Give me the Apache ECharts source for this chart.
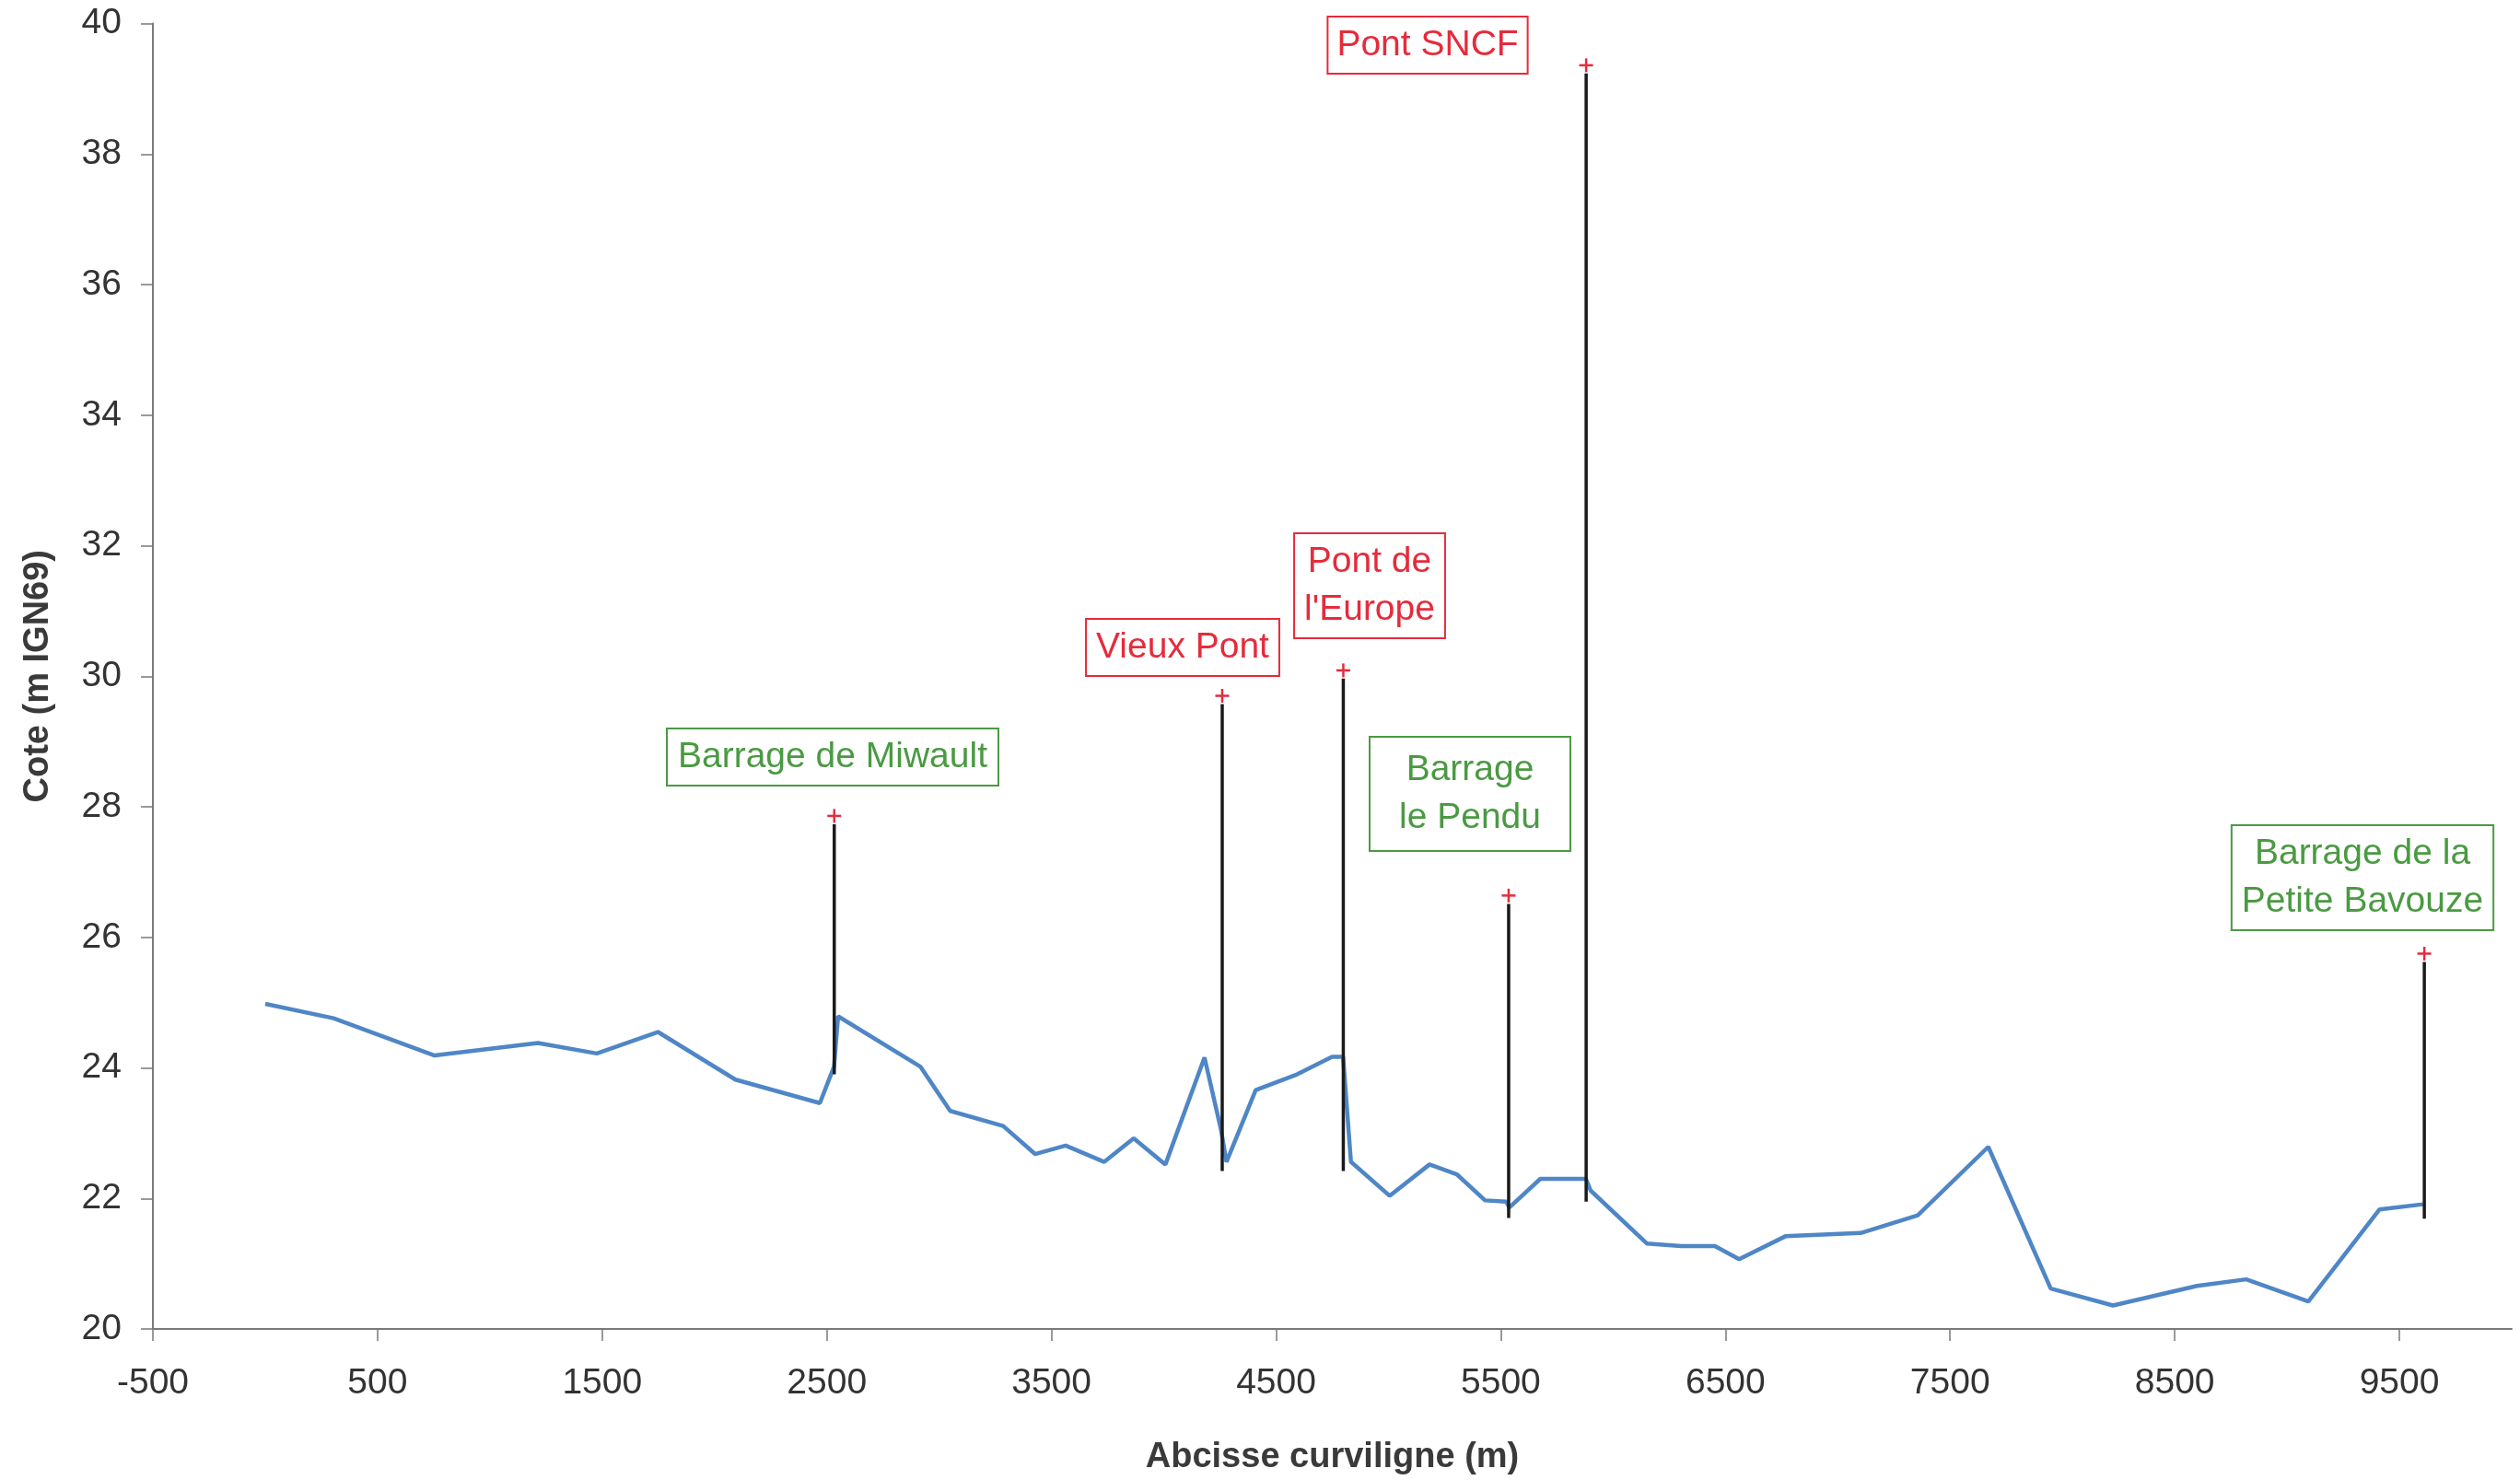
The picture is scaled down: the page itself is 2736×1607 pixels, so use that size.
<!DOCTYPE html>
<html>
<head>
<meta charset="utf-8">
<script src="https://cdn.jsdelivr.net/npm/echarts@6/dist/echarts.min.js"></script>
<style>
  html, body { margin: 0; padding: 0; background: #ffffff; }
  #chart { width: 2736px; height: 1607px; }
</style>
</head>
<body>
<div id="chart"></div>
<script>
// Water-line profile along the river: curvilinear abscissa (m) and level (m IGN69)
const abscisses = [0, 304, 754, 1214, 1476, 1748, 2093, 2469, 2532, 2550, 2916, 3049, 3285, 3427,
  3563, 3735, 3866, 4007, 4181, 4254, 4279, 4409, 4593, 4749, 4798, 4833, 5005, 5183, 5304, 5430,
  5524, 5538, 5676, 5879, 5900, 6150, 6303, 6453, 6561, 6767, 7102, 7356, 7670, 7948, 8225, 8599,
  8818, 9095, 9411, 9605];
const cotes = [24.98, 24.76, 24.19, 24.38, 24.22, 24.55, 23.82, 23.46, 24.02, 24.79, 24.02, 23.34,
  23.11, 22.68, 22.81, 22.56, 22.92, 22.52, 24.16, 23.06, 22.56, 23.66, 23.90, 24.17, 24.17, 22.56,
  22.04, 22.52, 22.37, 21.97, 21.95, 21.86, 22.30, 22.30, 22.12, 21.31, 21.27, 21.27, 21.07, 21.42,
  21.47, 21.74, 22.79, 20.62, 20.36, 20.66, 20.76, 20.42, 21.83, 21.91];

// Structures along the reach: name, kind, position, foot and crest level
const ouvrageNoms = ['Barrage de Miwault', 'Vieux Pont', "Pont de l'Europe", 'Barrage le Pendu',
  'Pont SNCF', 'Barrage de la Petite Bavouze'];
const ouvrageTextes = ['Barrage de Miwault', 'Vieux Pont', "Pont de\nl'Europe", 'Barrage\nle Pendu',
  'Pont SNCF', 'Barrage de la\nPetite Bavouze'];
const ouvrageTypes = ['barrage', 'pont', 'pont', 'barrage', 'pont', 'barrage'];
const ouvrageX = [2533, 4260, 4799, 5535, 5880, 9611];
const ouvrageBas = [23.90, 22.42, 22.42, 21.70, 21.95, 21.69];
const ouvrageHaut = [27.86, 29.70, 30.09, 26.64, 39.36, 25.75];

// Axis ticks
const xTicks = [-500, 500, 1500, 2500, 3500, 4500, 5500, 6500, 7500, 8500, 9500];
const yTicks = [20, 22, 24, 26, 28, 30, 32, 34, 36, 38, 40];

// Label boxes: centre (px) and padding
const etiquettesPos = [
  { x: 904, y: 822, pad: [4, 11] },
  { x: 1284, y: 703, pad: [4, 10] },
  { x: 1487, y: 636, pad: [4, 10] },
  { x: 1596, y: 862, pad: [9, 31] },
  { x: 1550, y: 49, pad: [4, 9] },
  { x: 2565, y: 953, pad: [4, 10] }
];

const COLORS = { pont: '#e62b3c', barrage: '#4a9a42' };
const FONT = '"Liberation Sans", Arial, sans-serif';

const profil = abscisses.map((x, i) => [x, cotes[i]]);
const ouvrages = ouvrageX.map((x, i) => [x, ouvrageBas[i], ouvrageHaut[i]]);

const chart = echarts.init(document.getElementById('chart'), null, { renderer: 'canvas' });

const graphics = ouvrageTextes.map((t, i) => ({
  type: 'text',
  x: etiquettesPos[i].x,
  y: etiquettesPos[i].y,
  z: 100,
  style: {
    text: t,
    align: 'center',
    verticalAlign: 'middle',
    fill: COLORS[ouvrageTypes[i]],
    font: '39px ' + FONT,
    lineHeight: 52,
    backgroundColor: '#ffffff',
    borderColor: COLORS[ouvrageTypes[i]],
    borderWidth: 2,
    padding: etiquettesPos[i].pad
  }
}));

chart.setOption({
  animation: false,
  backgroundColor: '#ffffff',
  textStyle: { fontFamily: FONT },
  grid: { left: 166, right: 9, top: 25.5, bottom: 163.5, containLabel: false },
  xAxis: {
    type: 'value',
    min: -500,
    max: 10000,
    interval: 1000,
    name: 'Abcisse curviligne (m)',
    nameLocation: 'middle',
    nameGap: 121,
    nameTextStyle: { fontSize: 38, fontWeight: 'bold', color: '#3a3a3a', fontFamily: FONT },
    axisLine: { show: true, onZero: false, lineStyle: { color: '#7a7a7a', width: 2 } },
    axisTick: { show: true, length: 13, customValues: xTicks, lineStyle: { color: '#7a7a7a', width: 1.5 } },
    axisLabel: {
      customValues: xTicks, margin: 40, fontSize: 39, color: '#333333', fontFamily: FONT,
      formatter: v => String(v)
    },
    splitLine: { show: false }
  },
  yAxis: {
    type: 'value',
    min: 20,
    max: 40,
    interval: 2,
    name: 'Cote (m IGN69)',
    nameLocation: 'middle',
    nameGap: 105,
    nameTextStyle: { fontSize: 38, fontWeight: 'bold', color: '#3a3a3a', fontFamily: FONT },
    axisLine: { show: true, onZero: false, lineStyle: { color: '#7a7a7a', width: 2 } },
    axisTick: { show: true, length: 13, customValues: yTicks, lineStyle: { color: '#7a7a7a', width: 1.5 } },
    axisLabel: {
      customValues: yTicks, margin: 34, fontSize: 39, color: '#333333', fontFamily: FONT,
      formatter: v => String(v)
    },
    splitLine: { show: false }
  },
  series: [
    {
      name: 'Ligne d\'eau',
      type: 'line',
      data: profil,
      symbol: 'none',
      smooth: false,
      lineStyle: { color: '#4f86c6', width: 4.5 },
      z: 2
    },
    {
      name: 'Ouvrages',
      type: 'custom',
      data: ouvrages,
      z: 3,
      renderItem: function (params, api) {
        const x = api.value(0);
        const pBas = api.coord([x, api.value(1)]);
        const pHaut = api.coord([x, api.value(2)]);
        const col = COLORS.pont;
        const s = 7.5;
        return {
          type: 'group',
          children: [
            {
              type: 'line',
              shape: { x1: pHaut[0], y1: pHaut[1] + 9, x2: pBas[0], y2: pBas[1] },
              style: { stroke: '#1a1a1a', lineWidth: 3.5 }
            },
            {
              type: 'line',
              shape: { x1: pHaut[0] - s, y1: pHaut[1], x2: pHaut[0] + s, y2: pHaut[1] },
              style: { stroke: col, lineWidth: 2.5 }
            },
            {
              type: 'line',
              shape: { x1: pHaut[0], y1: pHaut[1] - s, x2: pHaut[0], y2: pHaut[1] + s },
              style: { stroke: col, lineWidth: 2.5 }
            }
          ]
        };
      }
    }
  ],
  graphic: graphics
});
</script>
</body>
</html>
